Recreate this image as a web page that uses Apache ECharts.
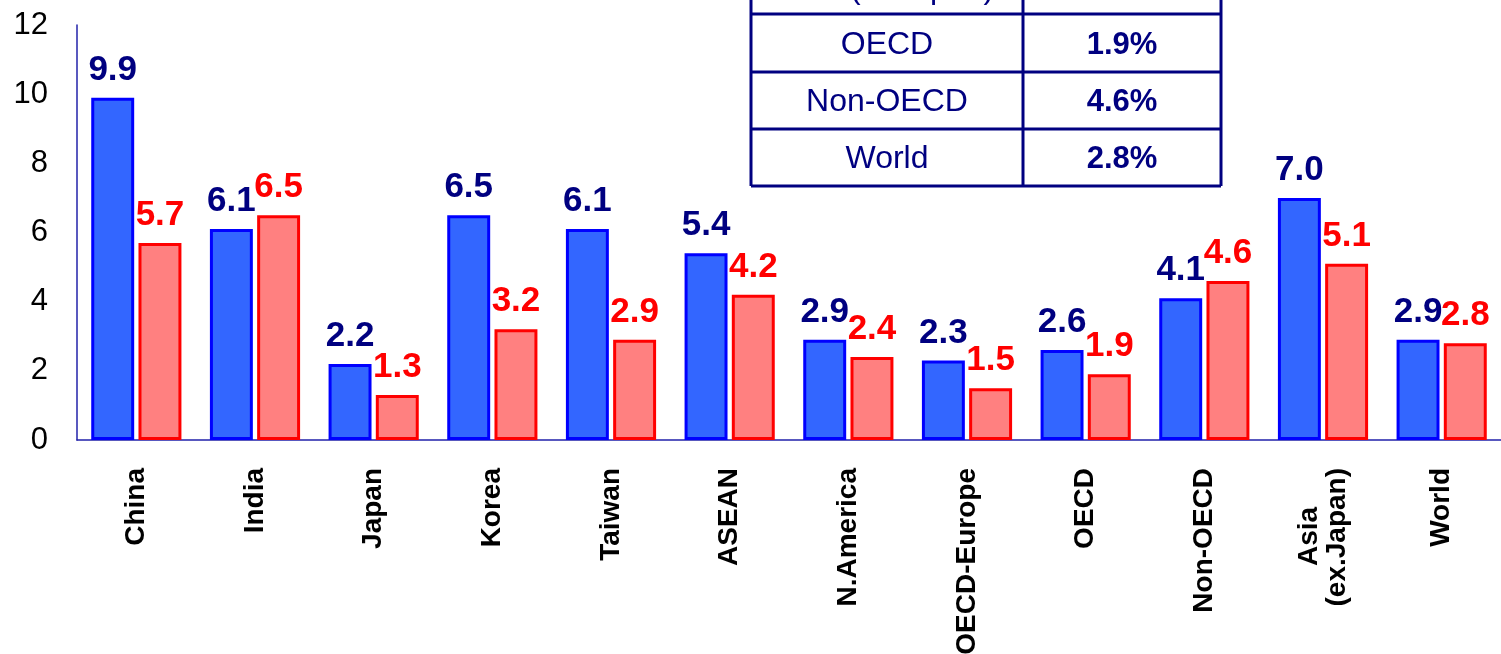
<!DOCTYPE html>
<html>
<head>
<meta charset="utf-8">
<script src="https://cdn.jsdelivr.net/npm/echarts@6/dist/echarts.min.js"></script>
<style>
  html, body { margin: 0; padding: 0; background: #fff; }
  #chart { width: 1501px; height: 654px; }
</style>
</head>
<body>
<div id="chart"></div>
<script>
  // data
  const categories = ['China', 'India', 'Japan', 'Korea', 'Taiwan', 'ASEAN', 'N.America',
    'OECD-Europe', 'OECD', 'Non-OECD', 'Asia     \n(ex.Japan)', 'World']
  const pastGrowth = [9.9, 6.1, 2.2, 6.5, 6.1, 5.4, 2.9, 2.3, 2.6, 4.1, 7.0, 2.9]
  const futureGrowth = [5.7, 6.5, 1.3, 3.2, 2.9, 4.2, 2.4, 1.5, 1.9, 4.6, 5.1, 2.8]
  const yMin = 0
  const yMax = 12
  const yStep = 2
  const tableHeader = '(ave. p.a.)'
  const tableRegions = ['OECD', 'Non-OECD', 'World']
  const tableRates = ['1.9%', '4.6%', '2.8%']

  const navy = '#000080'
  const font = "'Liberation Sans', Arial, sans-serif"

  // inset table (top edge is cut off by the frame)
  const tLeft = 751, tMid = 1023, tRight = 1221
  const rowTops = [-44, 14, 72, 129]
  const tBottom = 186
  const tableGraphic = []
  const line = (x1, y1, x2, y2) => ({
    type: 'line',
    shape: { x1: x1, y1: y1, x2: x2, y2: y2 },
    style: { stroke: navy, lineWidth: 3 },
    z: 100
  })
  tableGraphic.push({
    type: 'rect',
    shape: { x: tLeft, y: rowTops[0], width: tRight - tLeft, height: tBottom - rowTops[0] },
    style: { fill: '#fff' },
    z: 99
  })
  tableGraphic.push(line(tLeft, rowTops[0], tLeft, tBottom))
  tableGraphic.push(line(tRight, rowTops[0], tRight, tBottom))
  tableGraphic.push(line(tMid, rowTops[0], tMid, tBottom))
  tableGraphic.push(line(tLeft, tBottom, tRight, tBottom))
  for (let i = 1; i < rowTops.length; i++) {
    tableGraphic.push(line(tLeft, rowTops[i], tRight, rowTops[i]))
  }
  tableGraphic.push({
    type: 'text', x: 922, y: -11, z: 101,
    style: { text: tableHeader, fill: navy, font: '32px ' + font, align: 'center', verticalAlign: 'middle' }
  })
  tableRegions.forEach((name, i) => {
    const yTop = rowTops[i + 1]
    const yBot = i + 2 < rowTops.length ? rowTops[i + 2] : tBottom
    const cy = (yTop + yBot) / 2 + 2
    tableGraphic.push({
      type: 'text', x: (tLeft + tMid) / 2, y: cy, z: 101,
      style: { text: name, fill: navy, font: '32px ' + font, align: 'center', verticalAlign: 'middle' }
    })
    tableGraphic.push({
      type: 'text', x: (tMid + tRight) / 2, y: cy, z: 101,
      style: { text: tableRates[i], fill: navy, font: 'bold 31px ' + font, align: 'center', verticalAlign: 'middle' }
    })
  })

  const barLabel = color => ({
    show: true,
    position: 'top',
    distance: 10,
    color: color,
    fontSize: 35,
    fontWeight: 'bold',
    fontFamily: font,
    formatter: p => p.value.toFixed(1)
  })

  const chart = echarts.init(document.getElementById('chart'))
  chart.setOption({
    animation: false,
    backgroundColor: '#fff',
    grid: {
      left: 77,
      right: 0,
      top: 25,
      bottom: 214,
      containLabel: false,
      outerBoundsMode: 'none'
    },
    xAxis: {
      type: 'category',
      data: categories,
      axisLine: { lineStyle: { color: '#2222aa', width: 1.5 } },
      axisTick: { show: false },
      axisLabel: {
        rotate: 90,
        margin: 28,
        interval: 0,
        color: '#000',
        fontSize: 28,
        fontWeight: 'bold',
        fontFamily: font,
        lineHeight: 28
      }
    },
    yAxis: {
      type: 'value',
      min: yMin,
      max: yMax,
      interval: yStep,
      splitLine: { show: false },
      axisLine: { show: true, lineStyle: { color: '#2222aa', width: 1.5 } },
      axisTick: { show: false },
      axisLabel: {
        margin: 29,
        color: '#000',
        fontSize: 31,
        fontFamily: font
      }
    },
    series: [
      {
        name: 'past',
        type: 'bar',
        data: pastGrowth,
        barGap: '10%',
        barCategoryGap: '24%',
        itemStyle: { color: '#3366ff', borderColor: '#0000ff', borderWidth: 3 },
        label: barLabel(navy)
      },
      {
        name: 'future',
        type: 'bar',
        data: futureGrowth,
        barGap: '10%',
        barCategoryGap: '24%',
        itemStyle: { color: '#ff8080', borderColor: '#ff0000', borderWidth: 3 },
        label: barLabel('#ff0000')
      }
    ],
    graphic: tableGraphic
  })
</script>
</body>
</html>
